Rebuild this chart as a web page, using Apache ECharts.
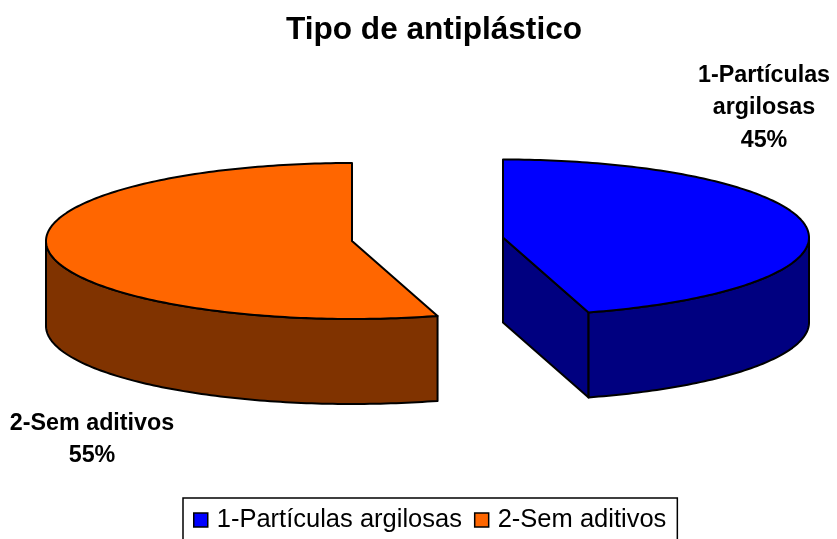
<!DOCTYPE html>
<html><head><meta charset="utf-8">
<style>html,body{margin:0;padding:0;background:#fff}#c{width:837px;height:539px}</style>
<script src="https://cdn.jsdelivr.net/npm/echarts@6/dist/echarts.min.js"></script>
</head><body><div id="c"></div>
<script>
const title = 'Tipo de antiplástico';
const categories = ['1-Partículas argilosas', '2-Sem aditivos'];
const labelLines = ['1-Partículas\nargilosas', '2-Sem aditivos'];
const values = [45.49, 54.51];
const topColors = ['#0000ff', '#ff6600'];
const sideColors = ['#000080', '#803300'];

// layout of the exploded, tilted pie
const centers = [[503, 237.5], [352, 241]];
const labelPos = [[764, 108], [92, 439.5]];
const RX = 306, RY = 78, DEPTH = 85, FONT = 'Liberation Sans, Arial, sans-serif';

const total = values.reduce((a, b) => a + b, 0);
const pt = (c, deg, dy) => {
  const t = deg * Math.PI / 180;
  return [c[0] + RX * Math.sin(t), c[1] - RY * Math.cos(t) + (dy || 0)];
};
const arc = (c, a, b, dy) => {
  const out = [];
  const n = Math.max(2, Math.ceil(Math.abs(b - a)));
  for (let i = 0; i <= n; i++) out.push(pt(c, a + (b - a) * i / n, dy));
  return out;
};
const lineStyle = { stroke: '#000', lineWidth: 2, lineJoin: 'round' };

function renderSlice(i) {
  return function (params, api) {
    const before = values.slice(0, i).reduce((a, b) => a + b, 0);
    const a0 = before / total * 360;
    const a1 = a0 + api.value(0) / total * 360;
    const c = centers[i];
    const children = [];
    const poly = (points, fill) => children.push({
      type: 'polygon', shape: { points },
      style: Object.assign({ fill }, lineStyle)
    });
    // radial cut faces that look towards the viewer
    const cBottom = [c[0], c[1] + DEPTH];
    if (a1 > 0 && a1 < 180) {
      const e = pt(c, a1), eb = pt(c, a1, DEPTH);
      poly([c, e, eb, cBottom], sideColors[i]);
    }
    if (a0 > 180 && a0 < 360) {
      const e = pt(c, a0), eb = pt(c, a0, DEPTH);
      poly([c, e, eb, cBottom], sideColors[i]);
    }
    // outer wall: front half of the rim only
    const w0 = Math.max(a0, 90), w1 = Math.min(a1, 270);
    if (w1 > w0) {
      poly(arc(c, w0, w1, 0).concat(arc(c, w1, w0, DEPTH)), sideColors[i]);
    }
    // top face
    poly([c].concat(arc(c, a0, a1, 0)), topColors[i]);
    // data label
    children.push({
      type: 'text',
      x: labelPos[i][0], y: labelPos[i][1],
      style: {
        text: labelLines[i] + '\n' + Math.round(api.value(0)) + '%',
        fill: '#000', font: 'bold 23.3px ' + FONT,
        align: 'center', verticalAlign: 'middle', lineHeight: 32.5
      }
    });
    return { type: 'group', children };
  };
}

const chart = echarts.init(document.getElementById('c'), null, { renderer: 'canvas' });
chart.setOption({
  animation: false,
  backgroundColor: '#fff',
  title: {
    text: title, left: 429, top: 9, textAlign: 'center',
    textStyle: { fontFamily: FONT, fontWeight: 'bold', fontSize: 31.6, color: '#000' }
  },
  legend: {
    left: 183, top: 498, padding: [9, 11, 20, 10],
    borderColor: '#000', borderWidth: 1.5, backgroundColor: '#fff',
    itemWidth: 14, itemHeight: 14, itemGap: 12, icon: 'rect',
    selectedMode: false,
    textStyle: { fontFamily: FONT, fontSize: 25.5, color: '#000', padding: [0, 0, 0, 4] },
    itemStyle: { borderColor: '#000', borderWidth: 1.5 },
    data: categories.map((name, i) => ({ name, itemStyle: { color: topColors[i] } }))
  },
  series: categories.map((name, i) => ({
    type: 'custom', name, coordinateSystem: 'none', silent: true,
    itemStyle: { color: topColors[i] },
    renderItem: renderSlice(i),
    data: [[values[i]]]
  }))
});
</script></body></html>
